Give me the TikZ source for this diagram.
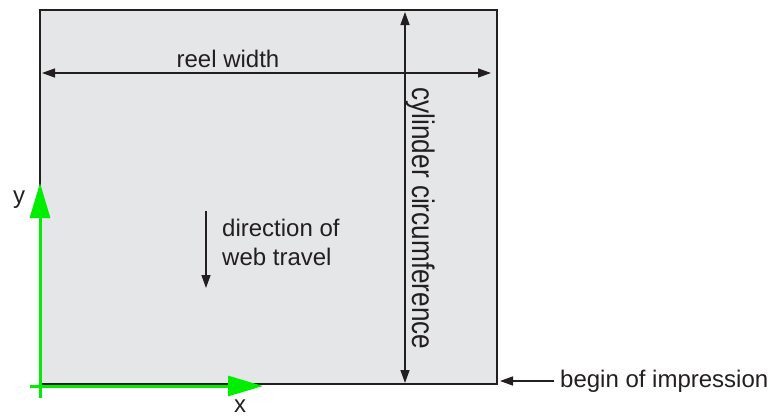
\documentclass[tikz,border=0pt]{standalone}
\usepackage{fontspec}
\setmainfont{Liberation Sans}
\usetikzlibrary{arrows.meta}

\definecolor{webgray}{HTML}{E5E6E8}
\definecolor{axisgreen}{HTML}{00EE00}
\definecolor{ink}{HTML}{231F20}

\begin{document}
\begin{tikzpicture}[x=1pt,y=-1pt,font=\fontsize{24}{29}\selectfont,text=ink,
    dim/.style={ink,line width=1.4pt,{Triangle[length=13pt,width=9pt]}-{Triangle[length=13pt,width=9pt]}},
    onearrow/.style={ink,line width=1.4pt,-{Triangle[length=13pt,width=9pt]}},
    axis/.style={axisgreen,line width=3pt,-{Triangle[length=35pt,width=20pt]}}]
  \useasboundingbox (0,0) rectangle (772,416);
  % web
  \draw[ink,fill=webgray,line width=1.5pt] (40,10) rectangle (497,384);
  \coordinate (rl) at (42,73);
  \coordinate (rr) at (491,73);
  \coordinate (ct) at (405,12);
  \coordinate (cb) at (405,383);
  \draw[dim] (rl) -- (rr);
  \node[anchor=base] (reel) at (228,67) {reel width};
  \draw[dim] (ct) -- (cb);
  \node[rotate=-90,anchor=south,inner sep=0.5pt] (circ) at (405,218.5) {\scalebox{1.09}[1.3]{cylinder circumference}};
  % direction of travel
  \coordinate (dt) at (206,211);
  \coordinate (db) at (206,288);
  \draw[onearrow] (dt) -- (db);
  \node[anchor=base west,align=left,inner sep=0pt] (travel) at (222,265) {direction of\\web travel};
  % begin of impression
  \node[anchor=west,inner sep=0pt] (begin) at (560,381) {begin of impression};
  \coordinate (bp) at (500,381);
  \draw[onearrow] ([xshift=-6pt]begin.west) -- (bp);
  % axes
  \draw[axis] (40,398) -- (40,183);
  \draw[axis] (30,386) -- (263,386);
  \node (ylab) at (19,200) {y};
  \node (xlab) at (240,406) {x};
\end{tikzpicture}
\end{document}
